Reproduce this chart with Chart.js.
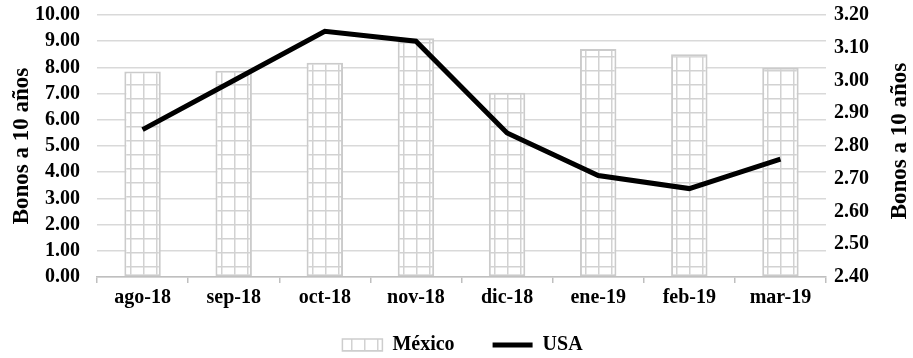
<!DOCTYPE html>
<html>
<head>
<meta charset="utf-8">
<script src="https://cdn.jsdelivr.net/npm/chart.js@4.4.0/dist/chart.umd.min.js"></script>
<style>
  html, body { margin: 0; padding: 0; background: #fff; }
  #wrap { width: 913px; height: 358px; position: relative; }
</style>
</head>
<body>
<div id="wrap"><canvas id="grafico"></canvas></div>
<script>
    // Datos
    var meses = ['ago-18', 'sep-18', 'oct-18', 'nov-18', 'dic-18', 'ene-19', 'feb-19', 'mar-19'];
    var mexico = [7.84, 7.87, 8.18, 9.11, 7.03, 8.70, 8.50, 7.99];
    var usa = [2.85, 3.00, 3.15, 3.12, 2.84, 2.71, 2.67, 2.76];

    // Escalas
    var ejeIzq = { min: 0, max: 10, paso: 1 };
    var ejeDer = { min: 2.4, max: 3.2, paso: 0.1 };
    var tituloEje = 'Bonos a 10 años';

    var fuente = 'Liberation Serif, Times New Roman, serif';

    // Patrón de cuadrícula para las barras
    function patronCuadricula() {
        var c = document.createElement('canvas');
        c.width = 13;
        c.height = 14;
        var g = c.getContext('2d');
        g.fillStyle = '#ffffff';
        g.fillRect(0, 0, 13, 14);
        g.fillStyle = '#d2d2d2';
        g.fillRect(0, 0, 13, 1.5);
        g.fillRect(0, 0, 1.5, 14);
        return g.createPattern(c, 'repeat');
    }

    var patron = patronCuadricula();

    // Título del eje derecho (Excel lo gira igual que el izquierdo)
    var tituloDerecho = {
        id: 'tituloDerecho',
        afterDraw: function (chart) {
            var g = chart.ctx;
            var area = chart.chartArea;
            g.save();
            g.translate(900, (area.top + area.bottom) / 2 - 5);
            g.rotate(-Math.PI / 2);
            g.font = 'bold 23px ' + fuente;
            g.fillStyle = '#000';
            g.textAlign = 'center';
            g.textBaseline = 'middle';
            g.fillText(tituloEje, 0, 0);
            g.restore();
        }
    };

    // Sube un poco la leyenda para que quede como en Excel
    var ajusteLeyenda = {
        id: 'ajusteLeyenda',
        afterLayout: function (chart) {
            var ley = chart.legend;
            if (!ley) return;
            ley.top -= 24;
            ley.left += 6;
            ley.right += 6;
        }
    };

    // Sin el margen extra que Chart.js deja por el padding de las etiquetas
    function sinMargen(s) {
        s.paddingTop = 0;
        s.paddingBottom = 0;
    }

    var ctx = document.getElementById('grafico').getContext('2d');
    var grafico = new Chart(ctx, {
        type: 'bar',
        data: {
            labels: meses,
            datasets: [
                {
                    type: 'line',
                    label: 'USA',
                    data: usa,
                    yAxisID: 'y1',
                    borderColor: '#000000',
                    backgroundColor: '#000000',
                    borderWidth: 5,
                    pointRadius: 0,
                    tension: 0,
                    fill: false,
                    order: 0
                },
                {
                    label: 'México',
                    data: mexico,
                    yAxisID: 'y',
                    backgroundColor: patron,
                    borderColor: '#cbcbcb',
                    borderWidth: 2,
                    borderSkipped: false,
                    barPercentage: 0.4,
                    categoryPercentage: 1,
                    order: 1
                }
            ]
        },
        options: {
            responsive: true,
            maintainAspectRatio: false,
            animation: false,
            layout: { padding: { left: 0, right: 0, top: 15, bottom: 0 } },
            plugins: {
                tooltip: { enabled: false },
                legend: {
                    position: 'bottom',
                    maxHeight: 37,
                    labels: {
                        color: '#000',
                        font: { family: fuente, size: 20, weight: 'bold' },
                        usePointStyle: true,
                        pointStyleWidth: 40,
                        boxHeight: 12,
                        padding: 38,
                        generateLabels: function (chart) {
                            return [
                                { text: 'México', fillStyle: patron, strokeStyle: '#cdcdcd', lineWidth: 1.5, pointStyle: 'rect', datasetIndex: 1, fontColor: '#000' },
                                { text: 'USA', fillStyle: '#000', strokeStyle: '#000', lineWidth: 5, pointStyle: 'line', datasetIndex: 0, fontColor: '#000' }
                            ];
                        }
                    }
                }
            },
            scales: {
                x: {
                    afterFit: function (s) { s.height = 44; },
                    grid: { display: true, drawOnChartArea: false, offset: true, color: '#bfbfbf', lineWidth: 1.5, tickLength: 6 },
                    border: { display: true, color: '#bfbfbf', width: 1.5 },
                    ticks: { color: '#000', font: { family: fuente, size: 20, weight: 'bold' }, padding: 3, maxRotation: 0 }
                },
                y: {
                    position: 'left',
                    min: ejeIzq.min,
                    max: ejeIzq.max,
                    afterFit: function (s) { s.width = 97; sinMargen(s); },
                    grid: { color: '#d9d9d9', lineWidth: 1.5, drawTicks: false },
                    border: { display: false },
                    ticks: {
                        stepSize: ejeIzq.paso,
                        autoSkip: false,
                        color: '#000',
                        font: { family: fuente, size: 20, weight: 'bold' },
                        padding: 17,
                        callback: function (v) { return Number(v).toFixed(2); }
                    },
                    title: { display: true, text: tituloEje, color: '#000', font: { family: fuente, size: 23, weight: 'bold' }, padding: { top: 8, bottom: 0 } }
                },
                y1: {
                    position: 'right',
                    min: ejeDer.min,
                    max: ejeDer.max,
                    afterFit: function (s) { s.width = 87; sinMargen(s); },
                    grid: { drawOnChartArea: false, drawTicks: false },
                    border: { display: false },
                    ticks: {
                        stepSize: ejeDer.paso,
                        autoSkip: false,
                        color: '#000',
                        font: { family: fuente, size: 20, weight: 'bold' },
                        padding: 8,
                        callback: function (v) { return Number(v).toFixed(2); }
                    }
                }
            }
        },
        plugins: [tituloDerecho, ajusteLeyenda]
    });
</script>
</body>
</html>
